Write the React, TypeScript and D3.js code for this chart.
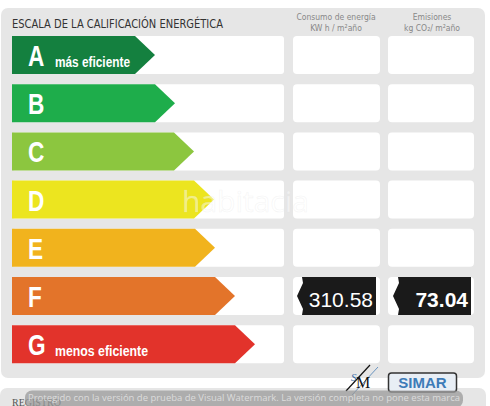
import React from "react";
import * as d3 from "d3";

const letters = ["A", "B", "C", "D", "E", "F", "G"];
const barTips = [155, 175, 194, 214, 215, 235, 255];
const barColors = ["#14803f", "#1ead4b", "#8cc63f", "#ece51f", "#f1b31d", "#e3742a", "#e2332b"];
const subLabels = ["más eficiente", "", "", "", "", "", "menos eficiente"];
const subLabelWidths = [75, 0, 0, 0, 0, 0, 93];
const ratedLetter = "F";
const consumo = "310.58";
const emisiones = "73.04";
const headerConsumo = ["Consumo de energía", "KW h / m²año"];
const headerEmisiones = ["Emisiones", "kg CO₂/ m²año"];
const title = "ESCALA DE LA CALIFICACIÓN ENERGÉTICA";

const W = 490;
const H = 406;
const narrow = "'Liberation Sans Narrow', 'DejaVu Sans Condensed', 'Liberation Sans', sans-serif";
const sans = "'Liberation Sans', Arial, sans-serif";

export default function App() {
  const yTop = d3.scaleLinear().domain([0, 7]).range([36, 373.4]);
  const bh = 38;
  const x = d3.scaleLinear().domain([0, 490]).range([0, 490]);
  const arrow = (i: number) => {
    const t = yTop(i);
    const tip = x(barTips[i]);
    const p = d3.path();
    p.moveTo(x(12), t);
    p.lineTo(tip - 20, t);
    p.lineTo(tip, t + bh / 2);
    p.lineTo(tip - 20, t + bh);
    p.lineTo(x(12), t + bh);
    p.closePath();
    return p.toString();
  };
  const valueShape = (x0: number, x1: number, t: number) => {
    const p = d3.path();
    p.moveTo(x0 + 5, t);
    p.lineTo(x1, t);
    p.lineTo(x1, t + bh);
    p.lineTo(x0 + 5, t + bh);
    p.lineTo(x0 + 6, t + bh - 6);
    p.lineTo(x0, t + bh / 2);
    p.lineTo(x0 + 6, t + 6);
    p.closePath();
    return p.toString();
  };
  const fi = letters.indexOf(ratedLetter);
  return (
    <svg width={W} height={H} style={{ position: "absolute", left: 0, top: 0, background: "#fff" }}>
      <rect x={1} y={8} width={484} height={370} rx={7} fill="#e6e6e6" />
      <text x={12} y={28} fontFamily={narrow} fontSize={13} fill="#333" textLength={211} lengthAdjust="spacingAndGlyphs">
        {title}
      </text>
      {headerConsumo.map((t, k) => (
        <text key={"hc" + k} x={336} y={20 + k * 11} textAnchor="middle" fontFamily={narrow} fontSize={8.5} fill="#888">
          {t}
        </text>
      ))}
      {headerEmisiones.map((t, k) => (
        <text key={"he" + k} x={432} y={20 + k * 11} textAnchor="middle" fontFamily={narrow} fontSize={8.5} fill="#888">
          {t}
        </text>
      ))}
      {letters.map((l, i) => {
        const t = yTop(i);
        return (
          <g key={l}>
            <rect x={12} y={t} width={272} height={bh} rx={3} fill="#fff" />
            <rect x={293} y={t} width={87} height={bh} rx={4} fill="#fff" />
            <rect x={388} y={t} width={86} height={bh} rx={4} fill="#fff" />
            <path d={arrow(i)} fill={barColors[i]} />
            <text
              transform={`translate(28,${t + 30}) scale(0.78,1)`}
              fontFamily={sans}
              fontWeight="bold"
              fontSize={29}
              fill="#fff"
            >
              {l}
            </text>
            {subLabels[i] && (
              <text
                x={55}
                y={t + 31}
                fontFamily={sans}
                fontWeight="bold"
                fontSize={14}
                fill="#fff"
                textLength={subLabelWidths[i]}
                lengthAdjust="spacingAndGlyphs"
              >
                {subLabels[i]}
              </text>
            )}
          </g>
        );
      })}
      <path d={valueShape(297, 376, yTop(fi))} fill="#1a1a1a" />
      <path d={valueShape(393, 471, yTop(fi))} fill="#1a1a1a" />
      <text x={373} y={yTop(fi) + 30} textAnchor="end" fontFamily={sans} fontSize={21} fill="#fff">
        {consumo}
      </text>
      <text x={468} y={yTop(fi) + 30} textAnchor="end" fontFamily={sans} fontWeight="bold" fontSize={21} fill="#fff">
        {emisiones}
      </text>
      <text x={182} y={212} fontFamily={"'Open Sans', sans-serif"} fontSize={30} fill="#fff" fillOpacity={0.45} stroke="#ddd" strokeOpacity={0.3} strokeWidth={0.6}>
        habitacia
      </text>
      <rect x={0} y={388} width={486} height={30} rx={7} fill="#e6e6e6" />
      <text x={12} y={406} fontFamily={"'Liberation Serif', serif"} fontSize={10} fill="#555">
        REGISTRO
      </text>
      <g>
        <line x1={346} y1={391} x2={370} y2={365} stroke="#111" strokeWidth={1.2} />
        <line x1={352} y1={395} x2={378} y2={367} stroke="#4a7fb5" strokeWidth={0.8} />
        <text x={356} y={388} fontFamily={"'Liberation Serif', serif"} fontSize={16} fill="#111">
          M
        </text>
        <text x={351} y={381} fontFamily={"'Liberation Serif', serif"} fontSize={11} fontStyle="italic" fill="#3a6fa8">
          S
        </text>
        <rect x={388.5} y={373} width={68} height={19} rx={3} fill="#e8eef5" stroke="#333" strokeWidth={1.5} />
        <text x={422.5} y={388} textAnchor="middle" fontFamily={sans} fontWeight="bold" fontSize={15} fill="#3d7bb8">
          SIMAR
        </text>
      </g>
      <rect x={25} y={390.5} width={438} height={17} rx={7} fill="#9a9a9a" fillOpacity={0.75} />
      <text x={244} y={401} textAnchor="middle" fontFamily={"'Open Sans', sans-serif"} fontSize={9.6} fill="#dcdcdc" textLength={432} lengthAdjust="spacingAndGlyphs">
        Protegido con la versión de prueba de Visual Watermark. La versión completa no pone esta marca
      </text>
    </svg>
  );
}
